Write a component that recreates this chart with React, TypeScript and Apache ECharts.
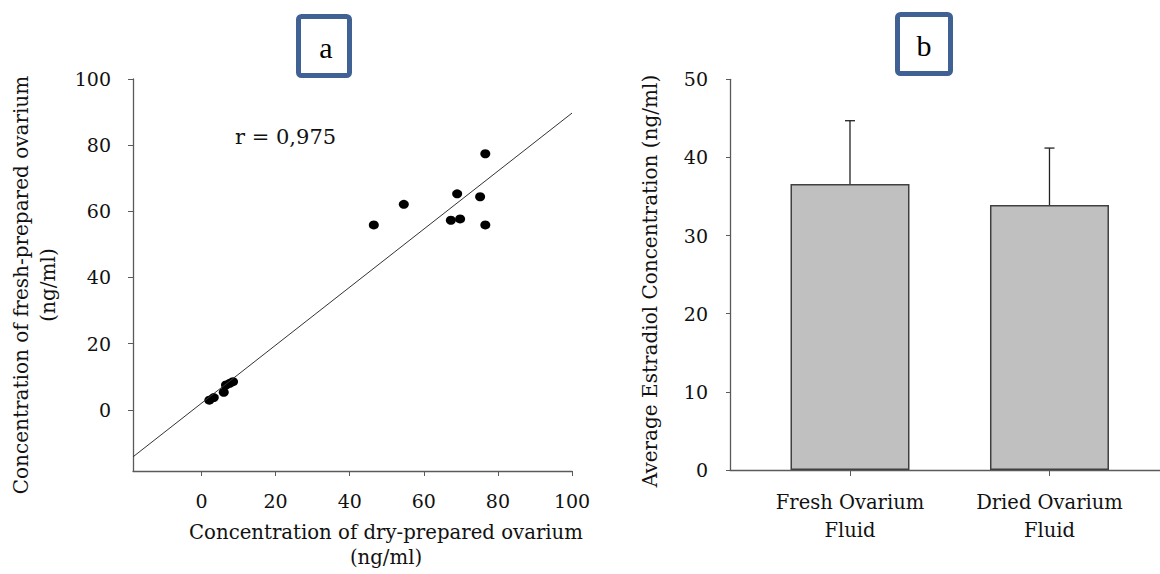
import React, { useEffect, useRef } from "react";
import * as echarts from "echarts";

// Panel a: scatter data
const dryConc = [46.5, 54.6, 69.0, 75.2, 76.6, 67.3, 69.8, 76.6, 2.1, 3.3, 6.0, 6.6, 7.6, 8.5];
const freshConc = [55.9, 62.1, 65.3, 64.4, 77.4, 57.3, 57.7, 55.9, 2.9, 3.7, 5.3, 7.5, 8.0, 8.5];
const scatterTicks = [0, 20, 40, 60, 80, 100];
const regSlope = 0.877;
const regIntercept = 2.0;
const corrLabel = "r = 0,975";

// Panel b: bar data
const barCategories = ["Fresh Ovarium\nFluid", "Dried Ovarium\nFluid"];
const barMeans = [36.6, 33.9];
const barSD = [8.1, 7.3];

const SERIF = "DejaVu Serif";
const TXT = "#111111";
const AXIS = "#5a5a5a";

export default function App() {
  const ref = useRef<HTMLDivElement>(null);
  useEffect(() => {
    document.body.style.margin = "0";
    const chart = echarts.init(ref.current as HTMLDivElement, null, { renderer: "svg" });
    const axMin = -18.5;
    const axMax = 100;
    const regLine = [
      [axMin, regSlope * axMin + regIntercept],
      [axMax, regSlope * axMax + regIntercept],
    ];
    const axisCommon = {
      axisLine: { show: true, onZero: false, lineStyle: { color: AXIS, width: 1.3 } },
      splitLine: { show: false },
    };
    const option: any = {
      animation: false,
      backgroundColor: "#ffffff",
      grid: [
        { left: 133, top: 79, width: 439, height: 392 },
        { left: 730, top: 79.3, width: 430, height: 390.7 },
      ],
      xAxis: [
        {
          type: "value",
          gridIndex: 0,
          min: axMin,
          max: axMax,
          ...axisCommon,
          axisTick: { show: true, length: 5, customValues: scatterTicks, lineStyle: { color: AXIS } },
          axisLabel: {
            customValues: scatterTicks,
            margin: 20,
            fontFamily: SERIF,
            fontSize: 19,
            color: TXT,
          },
        },
        {
          type: "value",
          gridIndex: 1,
          min: -0.6015,
          max: 1.554,
          ...axisCommon,
          axisTick: { show: true, length: 6, customValues: [0, 1], lineStyle: { color: AXIS } },
          axisLabel: {
            customValues: [0, 1],
            formatter: (v: number) => barCategories[Math.round(v)] ?? "",
            margin: 18,
            fontFamily: SERIF,
            fontSize: 19.5,
            lineHeight: 28,
            color: TXT,
          },
        },
      ],
      yAxis: [
        {
          type: "value",
          gridIndex: 0,
          min: axMin,
          max: axMax,
          ...axisCommon,
          axisTick: { show: true, length: 5, customValues: scatterTicks, lineStyle: { color: AXIS } },
          axisLabel: {
            customValues: scatterTicks,
            margin: 22,
            fontFamily: SERIF,
            fontSize: 19,
            color: TXT,
          },
        },
        {
          type: "value",
          gridIndex: 1,
          min: 0,
          max: 50,
          interval: 10,
          ...axisCommon,
          axisTick: { show: true, length: 4, lineStyle: { color: AXIS } },
          axisLabel: {
            margin: 22,
            fontFamily: SERIF,
            fontSize: 19,
            color: TXT,
          },
        },
      ],
      series: [
        {
          type: "line",
          xAxisIndex: 0,
          yAxisIndex: 0,
          data: regLine,
          symbol: "none",
          lineStyle: { color: "#333333", width: 1 },
          silent: true,
        },
        {
          type: "scatter",
          xAxisIndex: 0,
          yAxisIndex: 0,
          data: dryConc.map((x, i) => [x, freshConc[i]]),
          symbol: "circle",
          symbolSize: [10, 9],
          itemStyle: { color: "#000000", opacity: 1 },
        },
        {
          type: "bar",
          xAxisIndex: 1,
          yAxisIndex: 1,
          data: barMeans.map((m, i) => [i, m]),
          barWidth: 119,
          itemStyle: { color: "#c0c0c0", borderColor: "#404040", borderWidth: 1.5 },
        },
        {
          type: "custom",
          xAxisIndex: 1,
          yAxisIndex: 1,
          data: barMeans.map((m, i) => [i, m, barSD[i]]),
          clip: false,
          renderItem: (_params: any, api: any) => {
            const x = api.value(0);
            const m = api.value(1);
            const s = api.value(2);
            const p0 = api.coord([x, m]);
            const p1 = api.coord([x, m + s]);
            const st = { stroke: "#222222", lineWidth: 1.3 };
            return {
              type: "group",
              children: [
                { type: "line", shape: { x1: p0[0], y1: p0[1], x2: p1[0], y2: p1[1] }, style: st },
                { type: "line", shape: { x1: p1[0] - 5, y1: p1[1], x2: p1[0] + 5, y2: p1[1] }, style: st },
              ],
            };
          },
        },
      ],
      graphic: [
        {
          type: "text",
          x: 235,
          y: 137,
          style: { text: corrLabel, font: `21px "${SERIF}"`, fill: TXT, align: "left", verticalAlign: "middle" },
        },
        {
          type: "text",
          x: 34.5,
          y: 285,
          rotation: Math.PI / 2,
          style: {
            text: "Concentration of fresh-prepared ovarium\n(ng/ml)",
            font: `20px "${SERIF}"`,
            lineHeight: 27,
            fill: TXT,
            align: "center",
            verticalAlign: "middle",
          },
        },
        {
          type: "text",
          x: 386,
          y: 545,
          style: {
            text: "Concentration of dry-prepared ovarium\n(ng/ml)",
            font: `19.7px "${SERIF}"`,
            lineHeight: 25,
            fill: TXT,
            align: "center",
            verticalAlign: "middle",
          },
        },
        {
          type: "text",
          x: 650,
          y: 281,
          rotation: Math.PI / 2,
          style: {
            text: "Average Estradiol Concentration (ng/ml)",
            font: `20px "${SERIF}"`,
            fill: TXT,
            align: "center",
            verticalAlign: "middle",
          },
        },
        {
          type: "rect",
          shape: { x: 298.5, y: 16.5, width: 51, height: 59, r: 3 },
          style: { fill: "#ffffff", stroke: "#3f6193", lineWidth: 5 },
        },
        {
          type: "text",
          x: 326,
          y: 47,
          style: { text: "a", font: `30px "Liberation Serif"`, fill: "#000", align: "center", verticalAlign: "middle" },
        },
        {
          type: "rect",
          shape: { x: 897.5, y: 14.5, width: 53, height: 59, r: 3 },
          style: { fill: "#ffffff", stroke: "#3f6193", lineWidth: 5 },
        },
        {
          type: "text",
          x: 924,
          y: 45,
          style: { text: "b", font: `30px "Liberation Serif"`, fill: "#000", align: "center", verticalAlign: "middle" },
        },
      ],
    };
    chart.setOption(option);
    return () => chart.dispose();
  }, []);
  return <div ref={ref} style={{ width: 1160, height: 574 }} />;
}
